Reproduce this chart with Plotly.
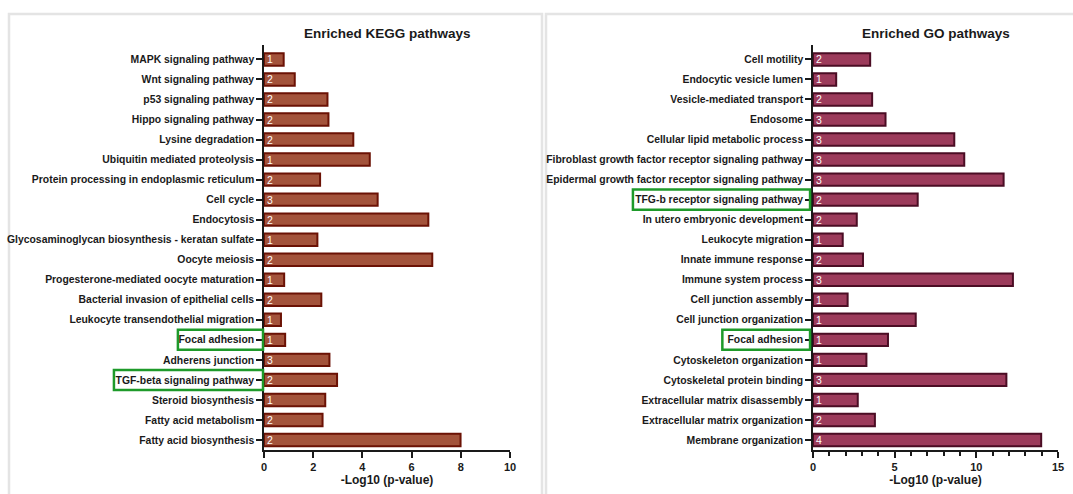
import plotly.graph_objects as go

# ---------------- data ----------------
kegg_terms = [
    "MAPK signaling pathway", "Wnt signaling pathway", "p53 signaling pathway",
    "Hippo signaling pathway", "Lysine degradation", "Ubiquitin mediated proteolysis",
    "Protein processing in endoplasmic reticulum", "Cell cycle", "Endocytosis",
    "Glycosaminoglycan biosynthesis - keratan sulfate", "Oocyte meiosis",
    "Progesterone-mediated oocyte maturation", "Bacterial invasion of epithelial cells",
    "Leukocyte transendothelial migration", "Focal adhesion", "Adherens junction",
    "TGF-beta signaling pathway", "Steroid biosynthesis", "Fatty acid metabolism",
    "Fatty acid biosynthesis",
]
kegg_values = [0.80, 1.25, 2.58, 2.62, 3.63, 4.30, 2.28, 4.62, 6.68, 2.17,
               6.84, 0.82, 2.33, 0.69, 0.86, 2.66, 2.97, 2.49, 2.38, 7.99]
kegg_counts = [1, 2, 2, 2, 2, 1, 2, 3, 2, 1, 2, 1, 2, 1, 1, 3, 2, 1, 2, 2]
kegg_highlight = ["Focal adhesion", "TGF-beta signaling pathway"]

go_terms = [
    "Cell motility", "Endocytic vesicle lumen", "Vesicle-mediated transport", "Endosome",
    "Cellular lipid metabolic process",
    "Fibroblast growth factor receptor signaling pathway",
    "Epidermal growth factor receptor signaling pathway",
    "TFG-b receptor signaling pathway", "In utero embryonic development",
    "Leukocyte migration", "Innate immune response", "Immune system process",
    "Cell junction assembly", "Cell junction organization", "Focal adhesion",
    "Cytoskeleton organization", "Cytoskeletal protein binding",
    "Extracellular matrix disassembly", "Extracellular matrix organization",
    "Membrane organization",
]
go_values = [3.50, 1.42, 3.62, 4.44, 8.65, 9.26, 11.67, 6.41, 2.68, 1.82,
             3.06, 12.24, 2.12, 6.29, 4.59, 3.27, 11.84, 2.74, 3.79, 13.97]
go_counts = [2, 1, 2, 3, 3, 3, 3, 2, 2, 1, 2, 3, 1, 1, 1, 1, 3, 1, 2, 4]
go_highlight = ["TFG-b receptor signaling pathway", "Focal adhesion"]

# ---------------- figure ----------------
W, H = 1073, 494
FONT = "Liberation Sans, Arial, sans-serif"

fig = go.Figure()

fig.add_trace(go.Bar(
    x=kegg_values, y=kegg_terms, orientation="h", xaxis="x", yaxis="y",
    marker=dict(color="#A3533B", line=dict(color="#6B1205", width=2)),
    width=0.62, text=[str(c) for c in kegg_counts], textposition="inside",
    insidetextanchor="start", constraintext="none", textangle=0,
    textfont=dict(color="white", size=10.5, family=FONT), showlegend=False,
))
fig.add_trace(go.Bar(
    x=go_values, y=go_terms, orientation="h", xaxis="x2", yaxis="y2",
    marker=dict(color="#9C3B5B", line=dict(color="#4B0D24", width=2)),
    width=0.62, text=[str(c) for c in go_counts], textposition="inside",
    insidetextanchor="start", constraintext="none", textangle=0,
    textfont=dict(color="white", size=10.5, family=FONT), showlegend=False,
))

ydom = [1 - 450 / H, 1 - 45 / H]
xdom1 = [264 / W, 510 / W]
xdom2 = [813 / W, 1058 / W]

tickfont = dict(family=FONT, size=10.4, color="#1a1a1a", weight="bold")

common_y = dict(
    type="category", showline=True, linecolor="#1a1a1a", linewidth=1.5,
    ticks="outside", ticklen=6, tickwidth=1.5, tickcolor="#1a1a1a",
    tickfont=tickfont, showgrid=False, zeroline=False, range=[19.5, -0.72],
    ticklabelstandoff=0, automargin=False,
)
common_x = dict(
    showline=True, linecolor="#1a1a1a", linewidth=2, ticks="outside", ticklen=6,
    tickwidth=2, tickcolor="#1a1a1a", tickfont=dict(tickfont, size=11), showgrid=False,
    zeroline=False, automargin=False,
    title=dict(text="-Log10 (p-value)", standoff=0,
               font=dict(family=FONT, size=12, color="#1a1a1a", weight="bold")),
)

fig.update_layout(
    width=W, height=H, margin=dict(l=0, r=0, t=0, b=0, autoexpand=False),
    paper_bgcolor="white", plot_bgcolor="white", bargap=0.3,
    xaxis=dict(domain=xdom1, anchor="y", range=[0, 10], dtick=2, **common_x),
    yaxis=dict(domain=ydom, anchor="x", categoryorder="array",
               categoryarray=kegg_terms, **common_y),
    xaxis2=dict(domain=xdom2, anchor="y2", range=[0, 15], dtick=5,
                minor=dict(dtick=1, ticks="outside", ticklen=4, tickwidth=1.5,
                           tickcolor="#1a1a1a"), **common_x),
    yaxis2=dict(domain=ydom, anchor="x2", categoryorder="array",
                categoryarray=go_terms, **common_y),
    font=dict(family=FONT),
)

# panel frames
for x0, x1 in [(9 / W, 542 / W), (546 / W, 1.01)]:
    fig.add_shape(type="rect", xref="paper", yref="paper", x0=x0, x1=x1,
                  y0=-0.05, y1=1 - 14 / H, line=dict(color="#E4E4E4", width=2.5),
                  fillcolor="rgba(0,0,0,0)", layer="below")

# titles
for xr, txt in [("x domain", "Enriched KEGG pathways"), ("x2 domain", "Enriched GO pathways")]:
    fig.add_annotation(text=txt, xref=xr, x=0.5, yref="paper", y=1 - 33 / H,
                       xanchor="center", yanchor="middle", showarrow=False,
                       font=dict(family=FONT, size=13.5, color="#1a1a1a", weight="bold"))

# highlight boxes around labels
box_spans = {
    ("y", "Focal adhesion"): (-0.35, -0.004),
    ("y", "TGF-beta signaling pathway"): (-0.61, -0.004),
    ("y2", "TFG-b receptor signaling pathway"): (-0.735, -0.012),
    ("y2", "Focal adhesion"): (-0.37, -0.012),
}
for (yr, term), (a, b) in box_spans.items():
    terms = kegg_terms if yr == "y" else go_terms
    idx = terms.index(term)
    xr = "x domain" if yr == "y" else "x2 domain"
    fig.add_shape(type="rect", xref=xr, yref=yr, x0=a, x1=b, y0=idx - 0.5, y1=idx + 0.5,
                  line=dict(color="#1E9A2A", width=2.5), fillcolor="rgba(0,0,0,0)")

fig.write_html("out.html", config={"displayModeBar": False},
               post_script="document.body.style.margin='0';document.body.style.overflow='hidden';")
